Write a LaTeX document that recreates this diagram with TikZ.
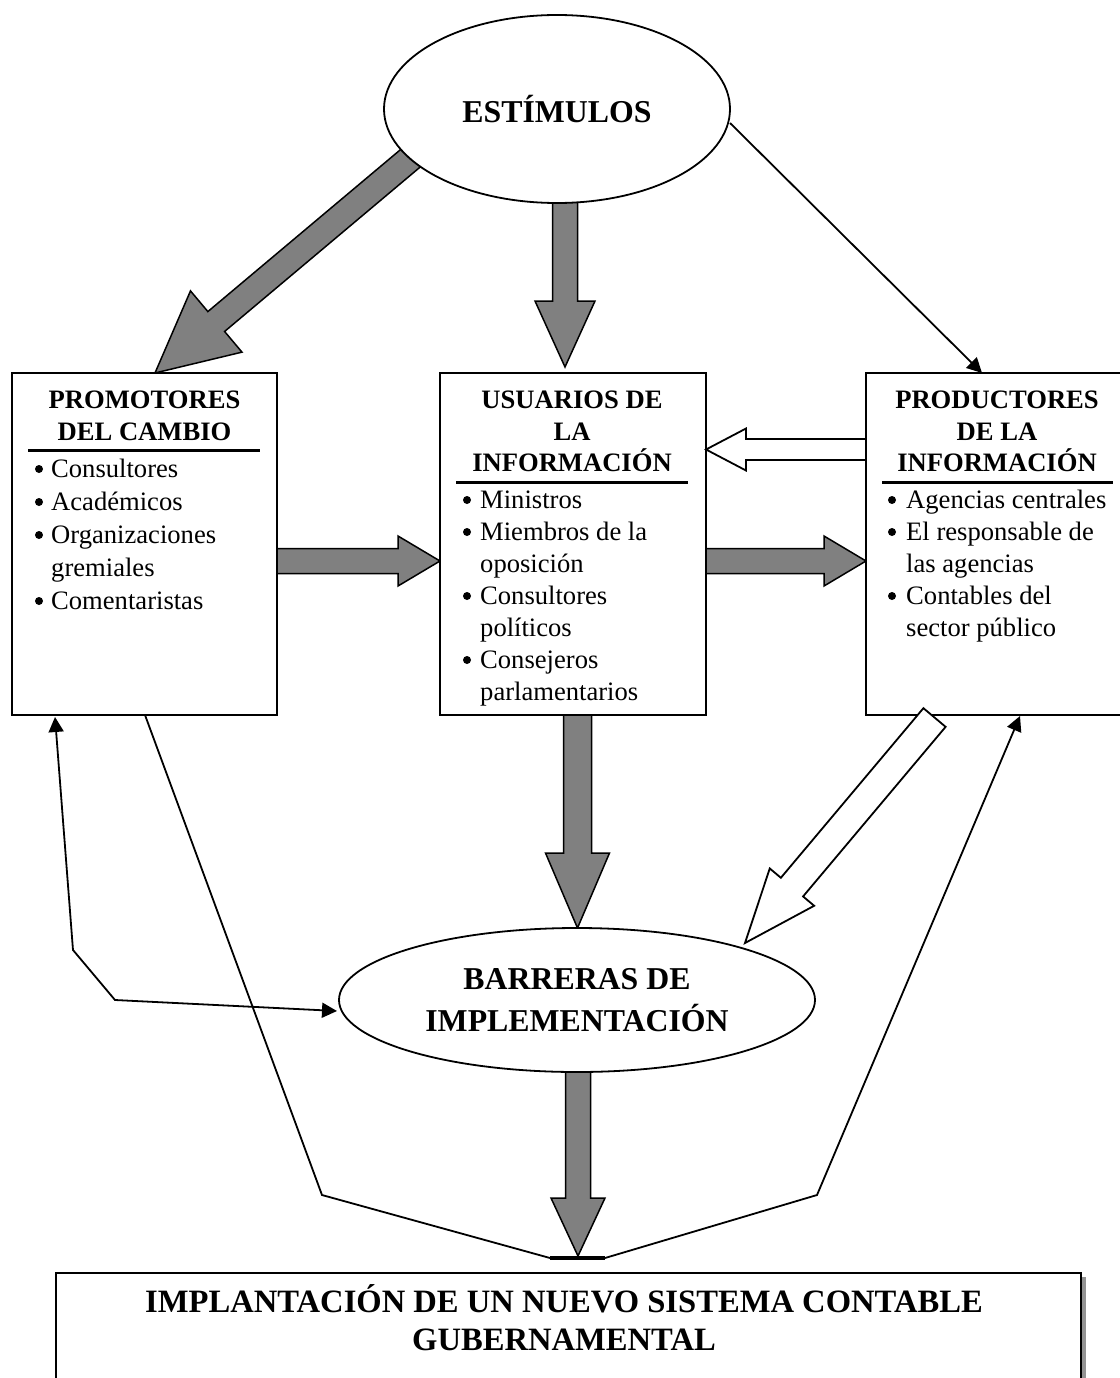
\documentclass[tikz,border=0pt]{standalone}
\usepackage{fontspec}
\setmainfont{Liberation Serif}
\usetikzlibrary{calc,shapes.geometric,arrows.meta}
\pgfdeclarelayer{back}
\pgfsetlayers{back,main}

% block arrow: #1 style, #2 tail, #3 tip, #4 shaft half width, #5 head half width, #6 head length
\newcommand{\blockarrow}[6]{%
  \coordinate (ahbase) at ($(#3)!#6!(#2)$);
  \filldraw[#1] ($(#2)!#4!90:(#3)$) -- ($(ahbase)!#4!90:(#3)$) -- ($(ahbase)!#5!90:(#3)$)
    -- (#3) -- ($(ahbase)!#5!-90:(#3)$) -- ($(ahbase)!#4!-90:(#3)$) -- ($(#2)!#4!-90:(#3)$) -- cycle;}
\newcommand{\listdot}[2]{\fill (#1,#2) circle (4pt);}

\begin{document}
\begin{tikzpicture}[x=1pt,y=-1pt,
  box/.style={draw, line width=1.8pt, fill=white, inner sep=0pt},
  oval/.style={ellipse, draw, line width=1.8pt, fill=white, inner sep=0pt},
  hd/.style={font=\fontsize{26.6}{31}\selectfont\bfseries, inner sep=0pt, anchor=base},
  it/.style={font=\fontsize{26.6}{32}\selectfont, inner sep=0pt, anchor=base west},
  bigtxt/.style={font=\fontsize{32.6}{40}\selectfont\bfseries, inner sep=0pt, anchor=base},
  rule/.style={line width=3pt},
  wire/.style={line width=1.8pt},
  tip/.style={-{Triangle[length=15pt,width=15pt]}},
  garrow/.style={fill=gray, draw=black, line width=1.5pt, line join=miter},
  warrow/.style={fill=white, draw=black, line width=1.8pt, line join=miter}]
\useasboundingbox (0,0) rectangle (1119,1378);

% ---------- main shapes ----------
\node[oval, minimum width=346pt, minimum height=188pt,
      font=\fontsize{31.8}{36}\selectfont\bfseries] (est) at (557,109) {ESTÍMULOS};
\node[box, minimum width=265pt, minimum height=342pt] (prom) at (144.5,544) {};
\node[box, minimum width=266pt, minimum height=342pt] (usu) at (573,544) {};
\node[box, minimum width=262pt, minimum height=342pt] (prod) at (997,544) {};
\node[oval, minimum width=476pt, minimum height=144pt, align=center,
      font=\fontsize{31.8}{42}\selectfont\bfseries] (barr) at (577,1000) {BARRERAS DE\\IMPLEMENTACIÓN};
\node[box, minimum width=1025pt, minimum height=160pt, anchor=north west] (impl) at (55,1272) {};

% ---------- box contents ----------
\node[hd] (promh1) at (144.5,408) {PROMOTORES};
\node[hd] (promh2) at (144.5,440) {DEL CAMBIO};
\draw[rule] (28,450) -- (260,450);
\listdot{39}{469}\node[it] (pi1) at (51,477) {Consultores};
\listdot{39}{502}\node[it] (pi2) at (51,510) {Académicos};
\listdot{39}{535}\node[it] (pi3) at (51,543) {Organizaciones};
\node[it] (pi4) at (51,576) {gremiales};
\listdot{39}{601}\node[it] (pi5) at (51,609) {Comentaristas};

\node[hd] (usuh1) at (572,408) {USUARIOS DE};
\node[hd] (usuh2) at (572,440) {LA};
\node[hd] (usuh3) at (572,471) {INFORMACIÓN};
\draw[rule] (456,482) -- (688,482);
\listdot{467}{500}\node[it] (ui1) at (480,508) {Ministros};
\listdot{467}{532}\node[it] (ui2) at (480,540) {Miembros de la};
\node[it] (ui3) at (480,572) {oposición};
\listdot{467}{596}\node[it] (ui4) at (480,604) {Consultores};
\node[it] (ui5) at (480,636) {políticos};
\listdot{467}{660}\node[it] (ui6) at (480,668) {Consejeros};
\node[it] (ui7) at (480,700) {parlamentarios};

\node[hd] (prodh1) at (997,408) {PRODUCTORES};
\node[hd] (prodh2) at (997,440) {DE LA};
\node[hd] (prodh3) at (997,471) {INFORMACIÓN};
\draw[rule] (882,482) -- (1113,482);
\listdot{892}{500}\node[it] (ri1) at (906,508) {Agencias centrales};
\listdot{892}{532}\node[it] (ri2) at (906,540) {El responsable de};
\node[it] (ri3) at (906,572) {las agencias};
\listdot{892}{596}\node[it] (ri4) at (906,604) {Contables del};
\node[it] (ri5) at (906,636) {sector público};

\node[bigtxt] (implt1) at (564,1312) {IMPLANTACIÓN DE UN NUEVO SISTEMA CONTABLE};
\node[bigtxt] (implt2) at (564,1350) {GUBERNAMENTAL};

% ---------- connector points ----------
\coordinate (estL) at (425,146);
\coordinate (promT) at (155,373);
\coordinate (estB) at (565,190);
\coordinate (usuT) at (565,367);
\coordinate (estR) at (730,123);
\coordinate (prodT) at (982,373);
\coordinate (promR) at (277,561);
\coordinate (usuL) at (440,561);
\coordinate (usuR) at (706,561);
\coordinate (prodL) at (866,561);
\coordinate (prodW) at (866,449.5);
\coordinate (usuRW) at (706,449.5);
\coordinate (usuB) at (577.5,715);
\coordinate (barrT) at (577.5,928);
\coordinate (prodB) at (934.5,717.5);
\coordinate (barrR) at (745,943);
\coordinate (barrB) at (578,1065);
\coordinate (implT) at (578,1256);
\coordinate (promBL) at (55,717);
\coordinate (k1) at (73,950);
\coordinate (k2) at (115,1000);
\coordinate (barrL) at (337,1011);
\coordinate (promBR) at (145,715);
\coordinate (fl) at (322,1195);
\coordinate (ml) at (550,1258);
\coordinate (mr) at (605,1258);
\coordinate (fr) at (817,1195);
\coordinate (prodBR) at (1020,716);

% ---------- block arrows ----------
\begin{pgfonlayer}{back}
  \fill[gray!85] ($(impl.north east)+(0,5)$) rectangle ($(impl.south east)+(4.5,0)$);
  \blockarrow{garrow}{estL}{promT}{13pt}{40pt}{80pt}
  \blockarrow{garrow}{estB}{usuT}{12.5pt}{30pt}{66pt}
  \blockarrow{garrow}{promR}{usuL}{12.5pt}{25pt}{42pt}
  \blockarrow{garrow}{usuR}{prodL}{12.5pt}{25pt}{42pt}
  \blockarrow{garrow}{usuB}{barrT}{14pt}{32pt}{75pt}
  \blockarrow{garrow}{barrB}{implT}{12.5pt}{27pt}{58pt}
\end{pgfonlayer}
\blockarrow{warrow}{prodW}{usuRW}{10.5pt}{21pt}{40pt}
\blockarrow{warrow}{prodB}{barrR}{14.5pt}{29pt}{73pt}

% ---------- line connectors ----------
\draw[wire, tip] (estR) -- (prodT);
\draw[wire, {Triangle[length=15pt,width=15pt]}-{Triangle[length=15pt,width=15pt]}]
  (promBL) -- (k1) -- (k2) -- (barrL);
\draw[wire] (promBR) -- (fl) -- (ml);
\draw[line width=4pt] (ml) -- (mr);
\draw[wire, tip] (mr) -- (fr) -- (prodBR);
\end{tikzpicture}
\end{document}
